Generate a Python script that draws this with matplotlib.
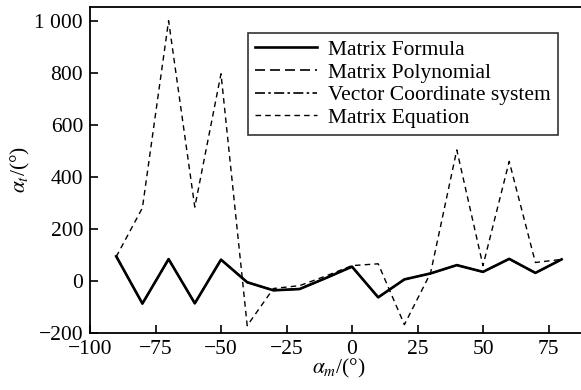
import matplotlib
matplotlib.use("Agg")
import matplotlib.pyplot as plt
from matplotlib.ticker import FuncFormatter

plt.rcParams['font.family'] = ['Liberation Serif', 'DejaVu Serif']
plt.rcParams['mathtext.fontset'] = 'stix'

x_vals = [-90, -80, -70, -60, -50, -40, -30, -20, -10, 0, 10, 20, 30, 40, 50, 60, 70, 80]
matrix_formula = [94, -88, 83, -87, 81, -6, -37, -32, 10, 54, -64, 5, 28, 60, 34, 84, 30, 82]
matrix_polynomial = [94, -88, 83, -87, 81, -6, -37, -32, 10, 54, -64, 5, 28, 60, 34, 84, 30, 82]
vector_coord = [94, -88, 83, -87, 81, -6, -37, -32, 10, 54, -64, 5, 28, 60, 34, 84, 30, 82]
matrix_equation = [92, 280, 1000, 283, 796, -173, -30, -19, 18, 58, 65, -169, 30, 503, 58, 459, 70, 82]

labels = ["Matrix Formula", "Matrix Polynomial", "Vector Coordinate system", "Matrix Equation"]
x_ticks = [-100, -75, -50, -25, 0, 25, 50, 75]
y_ticks = [-200, 0, 200, 400, 600, 800, 1000]

fig = plt.figure(figsize=(5.81, 3.90), dpi=100)
ax = fig.add_axes([90/581, (390-332.7)/390, 497.8/581, 326/390])

ax.plot(x_vals, matrix_equation, color='black', lw=1.0, linestyle=(0, (4, 3)), label=labels[3], zorder=2)
ax.plot(x_vals, matrix_polynomial, color='black', lw=1.2, linestyle=(0, (6, 3)), label=labels[1], zorder=3)
ax.plot(x_vals, vector_coord, color='black', lw=1.2, linestyle=(0, (6, 2, 1.5, 2)), label=labels[2], zorder=3)
ax.plot(x_vals, matrix_formula, color='black', lw=1.9, label=labels[0], zorder=4)

ax.set_xlim(-100, 90)
ax.set_ylim(-200, 1054)
ax.set_xticks(x_ticks)
ax.set_yticks(y_ticks)

def fmt(v, pos):
    v = int(round(v))
    s = f"{abs(v):,}".replace(",", " ")
    return ("\u2212" if v < 0 else "") + s

ax.xaxis.set_major_formatter(FuncFormatter(fmt))
ax.yaxis.set_major_formatter(FuncFormatter(fmt))
ax.tick_params(direction='in', labelsize=15.5, length=6, width=1.2, pad=5)
for s in ['left', 'bottom', 'top']:
    ax.spines[s].set_linewidth(1.3)
ax.spines['right'].set_visible(False)

ax.set_xlabel(r"$\alpha_m$/(°)", fontsize=15.5, labelpad=-1)
ax.set_ylabel(r"$\alpha_t$/(°)", fontsize=15.5, labelpad=2)

handles, labs = ax.get_legend_handles_labels()
hmap = dict(zip(labs, handles))
leg = ax.legend([hmap[l] for l in labels], labels, loc='upper left',
                bbox_to_anchor=(248/581, 1 - 33/390), bbox_transform=fig.transFigure,
                fontsize=15.5, frameon=True, fancybox=False, edgecolor='black',
                handlelength=2.9, handletextpad=0.5, borderpad=0.32, labelspacing=0.12,
                borderaxespad=0)
leg.get_frame().set_linewidth(1.2)

fig.savefig("out.png", dpi=100)
